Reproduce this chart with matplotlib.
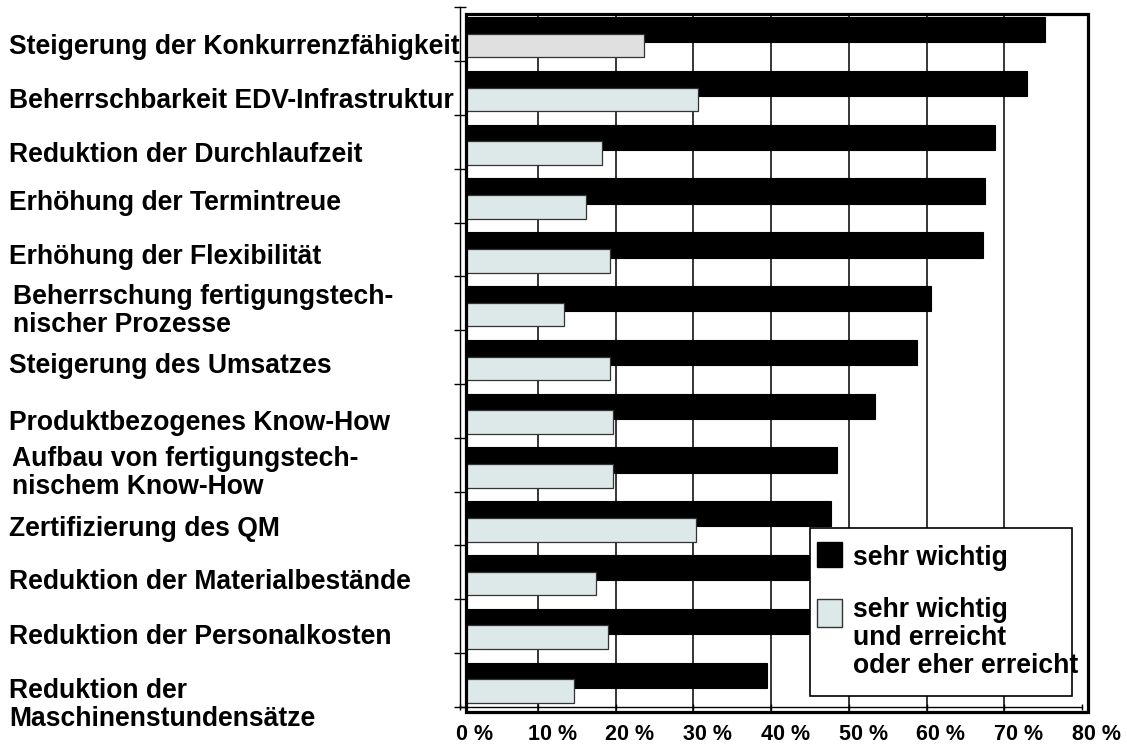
import numpy as np
import matplotlib
matplotlib.use("Agg")
import matplotlib.pyplot as plt
from matplotlib.patches import Rectangle
from matplotlib import transforms

plt.rcParams['font.family'] = ['Liberation Sans', 'DejaVu Sans']
plt.rcParams['font.weight'] = 'bold'

# data (percent of companies)
categories = [
    'Steigerung der Konkurrenzfähigkeit',
    'Beherrschbarkeit EDV-Infrastruktur',
    'Reduktion der Durchlaufzeit',
    'Erhöhung der Termintreue',
    'Erhöhung der Flexibilität',
    'Beherrschung fertigungstech-\nnischer Prozesse',
    'Steigerung des Umsatzes',
    'Produktbezogenes Know-How',
    'Aufbau von fertigungstech-\nnischem Know-How',
    'Zertifizierung des QM',
    'Reduktion der Materialbestände',
    'Reduktion der Personalkosten',
    'Reduktion der\nMaschinenstundensätze',
]
sehr_wichtig = [75.2, 72.9, 68.8, 67.5, 67.3, 60.6, 58.8, 53.4, 48.5, 47.7, 46.0, 45.0, 39.5]
erreicht = [23.7, 30.6, 18.3, 16.2, 19.3, 13.4, 19.3, 19.7, 19.7, 30.4, 17.5, 19.0, 14.7]
xticks = [0, 10, 20, 30, 40, 50, 60, 70, 80]
xticklabels = ['0 %', '10 %', '20 %', '30 %', '40 %', '50 %', '60 %', '70 %', '80 %']
legend_labels = ['sehr wichtig', 'sehr wichtig\nund erreicht\noder eher erreicht']

# layout
W, H = 1127, 746
label_dy = [0.24, 0.24, 0.24, 0.14, 0.14, 0.15, 0.17, 0.22, 0.16, 0.2, 0.18, 0.2, 0.47]
label_indent = {5: 4, 8: 3}
light_colors = ['#e0e0e0'] + ['#dde8e8'] * (len(categories) - 1)
fs = 19.1

fig = plt.figure(figsize=(W / 100, H / 100), dpi=100)
ax = fig.add_axes([460 / W, (H - 706.7) / H, 622 / W, 699.3 / H])
ax.set_xlim(0, 80)
ax.set_ylim(len(categories), 0)

# thick frame of the plotting surface, also used to clip the bars
frame = Rectangle((0.77, 0.12), 80.8 - 0.77, 13.1 - 0.12, fill=False,
                  edgecolor='black', linewidth=2.3, zorder=5, clip_on=False)
ax.add_patch(frame)

y = np.arange(len(categories))
grid = ax.vlines(xticks[1:-1], 0, 13.1, colors='black', linewidth=1.1, zorder=1)
grid.set_clip_path(frame)

b1 = ax.barh(y + 0.415, sehr_wichtig, height=0.47, color='black',
             edgecolor='black', linewidth=0.8, zorder=2)
b2 = ax.barh(y + 0.71, erreicht, height=0.44, color=light_colors,
             edgecolor='#333333', linewidth=0.9, zorder=3)
for bar in list(b1) + list(b2):
    bar.set_clip_path(frame)

# axes lines and ticks
for s in ['top', 'right']:
    ax.spines[s].set_visible(False)
ax.spines['left'].set_linewidth(1.0)
ax.spines['bottom'].set_linewidth(1.0)
ax.set_yticks(np.arange(len(categories) + 1))
ax.set_yticklabels([])
ax.tick_params(axis='y', direction='inout', length=9, width=1.0)
ax.set_xticks(xticks)
ax.set_xticklabels(xticklabels, fontsize=15.5, fontweight='bold')
ax.tick_params(axis='x', direction='inout', length=5, width=1.0, pad=10)
offset = transforms.ScaledTranslation(14.5 / 100, 0, fig.dpi_scale_trans)
for lab in ax.get_xticklabels():
    lab.set_transform(lab.get_transform() + offset)

# category labels
for i, name in enumerate(categories):
    tr = transforms.blended_transform_factory(fig.transFigure, ax.transData)
    ax.text((9 + label_indent.get(i, 0)) / W, i + 0.5 + label_dy[i], name,
            transform=tr, ha='left', va='center', fontsize=fs,
            fontweight='bold', linespacing=1.1)

# legend box
def fpx(x, yy):
    return x / W, 1 - yy / H

tf = fig.transFigure
x0, y0 = fpx(810, 696)
x1, y1 = fpx(1072, 528)
fig.patches.append(Rectangle((x0, y0), x1 - x0, y1 - y0, transform=tf,
                             facecolor='white', edgecolor='black', linewidth=1.2, zorder=6))
sx0, sy0 = fpx(817, 567)
sx1, sy1 = fpx(842, 542)
fig.patches.append(Rectangle((sx0, sy0), sx1 - sx0, sy1 - sy0, transform=tf,
                             facecolor='black', edgecolor='black', linewidth=1, zorder=7))
sx0, sy0 = fpx(817, 627)
sx1, sy1 = fpx(842, 599)
fig.patches.append(Rectangle((sx0, sy0), sx1 - sx0, sy1 - sy0, transform=tf,
                             facecolor='#dde8e8', edgecolor='#333333', linewidth=1, zorder=7))
tx, ty = fpx(853, 565)
fig.text(tx, ty, legend_labels[0], ha='left', va='baseline', fontsize=fs,
         fontweight='bold', zorder=8)
tx, ty = fpx(853, 597)
fig.text(tx, ty, legend_labels[1], ha='left', va='top', fontsize=fs,
         fontweight='bold', linespacing=1.1, zorder=8)

fig.savefig('out.png', dpi=100, facecolor='white')
